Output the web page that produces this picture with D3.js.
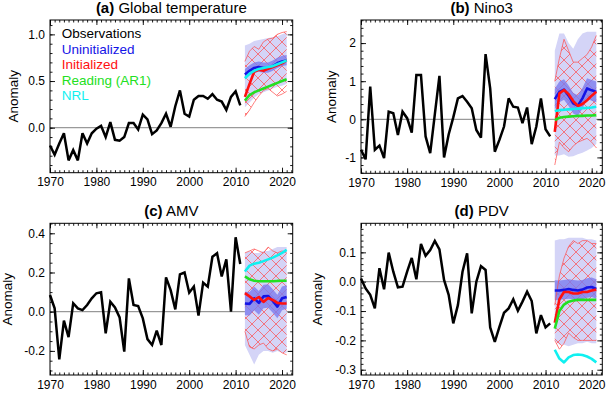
<!DOCTYPE html>
<html>
<head>
<meta charset="utf-8">
<script src="https://cdn.jsdelivr.net/npm/d3@7"></script>
<style>
  body { margin: 0; background: #fff; }
  svg { display: block; font-family: "Liberation Sans", Arial, Helvetica, sans-serif; }
  .tick text { font-size: 12px; fill: #000; }
</style>
</head>
<body>
<svg id="chart" width="609" height="393"></svg>
<script>
// years
const obsYears = d3.range(1970, 2012);
const fcYears = d3.range(2012, 2022);

// (a) global temperature
const globalObs = [-0.19,-0.29,-0.17,-0.06,-0.35,-0.24,-0.35,-0.06,-0.17,-0.06,
  -0.01,0.02,-0.10,0.06,-0.13,-0.14,-0.10,0.05,0.05,-0.02,
  0.14,0.09,-0.07,-0.03,0.05,0.15,0.01,0.23,0.40,0.15,
  0.12,0.30,0.34,0.34,0.31,0.36,0.30,0.28,0.19,0.33,
  0.39,0.24];
const globalInit = [0.33,0.47,0.60,0.62,0.61,0.63,0.65,0.67,0.69,0.72];
const globalUninit = [0.57,0.61,0.64,0.65,0.64,0.64,0.66,0.69,0.71,0.72];
const globalAR1 = [0.29,0.35,0.38,0.40,0.42,0.44,0.46,0.48,0.50,0.52];
const globalNRL = [0.53,0.58,0.61,0.63,0.64,0.65,0.66,0.68,0.70,0.72];
const globalInnerLo = [0.52,0.56,0.59,0.60,0.59,0.59,0.61,0.64,0.66,0.67];
const globalInnerHi = [0.63,0.67,0.70,0.71,0.70,0.70,0.72,0.75,0.77,0.78];
const globalOuterLo = [0.22,0.27,0.32,0.36,0.38,0.40,0.42,0.44,0.45,0.47];
const globalOuterHi = [0.88,0.90,0.93,0.94,0.95,0.96,0.97,0.98,1.00,1.02];
const globalInitLo = [0.12,0.19,0.27,0.34,0.40,0.42,0.38,0.34,0.36,0.39];
const globalInitHi = [0.71,0.82,0.87,0.84,0.92,0.95,0.96,1.00,1.02,1.03];

// (b) Nino3
const ninoObs = [-0.80,-1.05,0.86,-0.80,-0.69,-1.02,0.20,0.16,-0.41,0.20,
  0.03,-0.35,1.16,1.16,-0.45,-0.89,0.13,1.14,-1.00,-0.40,
  0.05,0.55,0.61,0.46,0.29,-0.28,-0.48,1.71,0.81,-0.85,
  -0.54,-0.19,0.55,0.33,0.31,-0.10,0.31,-0.65,-0.19,0.55,
  -0.26,-0.45];
const ninoInit = [-0.33,0.68,0.77,0.66,0.48,0.35,0.40,0.50,0.62,0.72];
const ninoUninit = [0.53,0.72,0.78,0.62,0.42,0.36,0.55,0.81,0.76,0.72];
const ninoAR1 = [-0.02,0.04,0.06,0.07,0.08,0.09,0.09,0.10,0.10,0.11];
const ninoNRL = [0.22,0.24,0.25,0.26,0.27,0.28,0.29,0.30,0.31,0.33];
const ninoInnerLo = [0.26,0.45,0.51,0.35,0.15,0.09,0.28,0.54,0.49,0.45];
const ninoInnerHi = [0.80,0.99,1.05,0.89,0.69,0.63,0.82,1.08,1.03,0.99];
const ninoOuterLo = [-0.95,-0.95,-0.92,-0.98,-0.97,-0.92,-0.88,-0.82,-0.75,-0.65];
const ninoOuterHi = [1.80,2.25,2.25,2.00,1.85,2.10,2.25,2.30,2.30,2.30];
const ninoInitLo = [-1.20,-0.60,-0.75,-0.85,-0.70,-0.60,-0.55,-0.50,-0.60,-0.75];
const ninoInitHi = [1.00,1.60,2.10,1.80,1.50,1.50,1.60,1.70,1.90,2.20];

// (c) AMV
const amvObs = [0.085,0.017,-0.243,-0.046,-0.13,0.043,0.017,0.008,0.034,0.068,
  0.094,0.099,-0.11,0.051,0.022,-0.029,-0.204,0.17,0.034,0.029,
  -0.034,-0.14,-0.17,-0.097,-0.17,0.175,0.11,0.012,0.19,0.20,
  0.097,0.128,-0.02,0.148,0.128,0.28,0.298,0.18,0.267,0.0,
  0.38,0.243];
const amvInit = [0.095,0.078,0.06,0.075,0.05,0.07,0.06,0.045,0.042,0.042];
const amvUninit = [0.042,0.04,0.068,0.045,0.078,0.08,0.055,0.026,0.068,0.075];
const amvAR1 = [0.18,0.165,0.158,0.155,0.155,0.155,0.155,0.157,0.158,0.158];
const amvNRL = [0.205,0.235,0.245,0.25,0.258,0.267,0.276,0.287,0.30,0.315];
const amvInnerLo = [-0.018,-0.02,0.008,-0.015,0.018,0.02,-0.005,-0.034,0.008,0.015];
const amvInnerHi = [0.102,0.10,0.128,0.105,0.138,0.14,0.115,0.086,0.128,0.135];
const amvOuterLo = [-0.17,-0.22,-0.27,-0.22,-0.20,-0.20,-0.21,-0.20,-0.21,-0.21];
const amvOuterHi = [0.30,0.31,0.30,0.30,0.31,0.31,0.32,0.33,0.33,0.33];
const amvInitLo = [-0.10,-0.18,-0.19,-0.17,-0.16,-0.19,-0.20,-0.19,-0.21,-0.22];
const amvInitHi = [0.30,0.31,0.32,0.31,0.30,0.33,0.31,0.30,0.31,0.30];

// (d) PDV
const pdvObs = [0.011,-0.023,-0.045,-0.091,0.046,-0.026,0.099,0.034,-0.019,-0.017,
  0.034,0.081,0.008,0.129,0.088,0.108,0.139,0.11,0.006,-0.045,
  -0.142,-0.08,0.034,0.097,-0.108,0.0,0.053,0.04,-0.156,-0.205,
  -0.154,-0.106,-0.091,-0.06,-0.099,-0.068,-0.034,-0.066,-0.176,-0.114,
  -0.156,-0.142];
const pdvInit = [-0.14,-0.06,-0.035,-0.035,-0.04,-0.04,-0.035,-0.035,-0.03,-0.027];
const pdvUninit = [-0.03,-0.03,-0.028,-0.025,-0.028,-0.03,-0.027,-0.02,-0.018,-0.025];
const pdvAR1 = [-0.16,-0.10,-0.078,-0.068,-0.064,-0.062,-0.062,-0.062,-0.062,-0.062];
const pdvNRL = [-0.232,-0.262,-0.275,-0.258,-0.25,-0.248,-0.25,-0.255,-0.263,-0.275];
const pdvInnerLo = [-0.063,-0.062,-0.060,-0.058,-0.060,-0.062,-0.060,-0.055,-0.052,-0.058];
const pdvInnerHi = [0.005,0.004,0.006,0.008,0.006,0.004,0.006,0.012,0.014,0.008];
const pdvOuterLo = [-0.20,-0.215,-0.215,-0.22,-0.215,-0.21,-0.21,-0.205,-0.21,-0.21];
const pdvOuterHi = [0.14,0.145,0.145,0.15,0.15,0.15,0.15,0.145,0.145,0.14];
const pdvInitLo = [-0.20,-0.23,-0.21,-0.175,-0.19,-0.20,-0.20,-0.20,-0.20,-0.20];
const pdvInitHi = [-0.08,0.02,0.08,0.12,0.14,0.13,0.14,0.14,0.13,0.13];

const legendLabels = ["Observations", "Uninitialized", "Initialized", "Reading (AR1)", "NRL"];
const colors = {obs: "#000", uninit: "#1414e6", init: "#ff1010", ar1: "#22e022", nrl: "#10f0f0"};
const legendColors = [colors.obs, colors.uninit, colors.init, colors.ar1, colors.nrl];

const panels = [
  {letter: "(a)", title: "Global temperature", box: [50, 292.7, 20, 172.7], yDomain: [-0.482, 1.154],
   major: [0, 0.5, 1.0], minorStep: 0.1, fmt: d => d.toFixed(1), ylabX: 13.5,
   obs: globalObs, init: globalInit, uninit: globalUninit, ar1: globalAR1, nrl: globalNRL,
   innerLo: globalInnerLo, innerHi: globalInnerHi, outerLo: globalOuterLo, outerHi: globalOuterHi,
   initLo: globalInitLo, initHi: globalInitHi, legend: true},
  {letter: "(b)", title: "Nino3", box: [361, 602.3, 20, 173.3], yDomain: [-1.417, 2.606],
   major: [-1, 0, 1, 2], minorStep: 0.2, fmt: d => String(d), ylabX: 331.5,
   obs: ninoObs, init: ninoInit, uninit: ninoUninit, ar1: ninoAR1, nrl: ninoNRL,
   innerLo: ninoInnerLo, innerHi: ninoInnerHi, outerLo: ninoOuterLo, outerHi: ninoOuterHi,
   initLo: ninoInitLo, initHi: ninoInitHi},
  {letter: "(c)", title: "AMV", box: [50, 292.7, 223.3, 375], yDomain: [-0.323, 0.451],
   major: [-0.2, 0, 0.2, 0.4], minorStep: 0.05, fmt: d => d.toFixed(1), ylabX: 7.5,
   obs: amvObs, init: amvInit, uninit: amvUninit, ar1: amvAR1, nrl: amvNRL,
   innerLo: amvInnerLo, innerHi: amvInnerHi, outerLo: amvOuterLo, outerHi: amvOuterHi,
   initLo: amvInitLo, initHi: amvInitHi},
  {letter: "(d)", title: "PDV", box: [361, 602.3, 223.3, 375], yDomain: [-0.318, 0.199],
   major: [-0.3, -0.2, -0.1, 0, 0.1], minorStep: 0.02, fmt: d => d.toFixed(1), ylabX: 317.5,
   obs: pdvObs, init: pdvInit, uninit: pdvUninit, ar1: pdvAR1, nrl: pdvNRL,
   innerLo: pdvInnerLo, innerHi: pdvInnerHi, outerLo: pdvOuterLo, outerHi: pdvOuterHi,
   initLo: pdvInitLo, initHi: pdvInitHi}
];

const svg = d3.select("#chart");
const defs = svg.append("defs");

// red cross-hatch for the initialized spread
const pat = defs.append("pattern")
  .attr("id", "hatch")
  .attr("patternUnits", "userSpaceOnUse")
  .attr("width", 12).attr("height", 12);
pat.append("path")
  .attr("d", "M-1,-1L13,13M13,-1L-1,13")
  .attr("stroke", "#ff4a4a")
  .attr("stroke-width", 0.7)
  .attr("fill", "none");

const majorYears = d3.range(1970, 2021, 10);
const minorYears = d3.range(1970, 2023);

panels.forEach((p, i) => {
  const [x0, x1, y0, y1] = p.box;
  const x = d3.scaleLinear().domain([1970, 2022.3]).range([x0, x1]);
  const y = d3.scaleLinear().domain(p.yDomain).range([y1, y0]);
  const g = svg.append("g");

  defs.append("clipPath").attr("id", "clip" + i)
    .append("rect").attr("x", x0).attr("y", y0).attr("width", x1 - x0).attr("height", y1 - y0);

  // zero line
  g.append("line")
    .attr("x1", x0).attr("x2", x1)
    .attr("y1", y(0)).attr("y2", y(0))
    .attr("stroke", "#808080").attr("stroke-width", 1);

  const fc = g.append("g").attr("clip-path", `url(#clip${i})`);
  const band = (lo, hi) => d3.area()
    .x((d, k) => x(fcYears[k]))
    .y0((d, k) => y(lo[k]))
    .y1((d, k) => y(hi[k]))(fcYears);

  fc.append("path").attr("d", band(p.outerLo, p.outerHi)).attr("fill", "#d4d4f7");
  fc.append("path").attr("d", band(p.initLo, p.initHi)).attr("fill", "url(#hatch)");
  fc.append("path").attr("d", band(p.innerLo, p.innerHi)).attr("fill", "#7c7cee").attr("fill-opacity", 0.8);

  const line = d3.line().x((d, k) => x(fcYears[k])).y(d => y(d));
  [p.initLo, p.initHi].forEach(arr => {
    fc.append("path").attr("d", line(arr))
      .attr("fill", "none").attr("stroke", "#ff4a4a").attr("stroke-width", 0.7);
  });

  [["uninit", p.uninit], ["init", p.init], ["ar1", p.ar1], ["nrl", p.nrl]].forEach(([k, arr]) => {
    fc.append("path").attr("d", line(arr))
      .attr("fill", "none").attr("stroke", colors[k])
      .attr("stroke-width", 2.6).attr("stroke-linejoin", "round");
  });

  // observations
  g.append("path")
    .attr("d", d3.line().x((d, k) => x(obsYears[k])).y(d => y(d))(p.obs))
    .attr("fill", "none").attr("stroke", colors.obs)
    .attr("stroke-width", 2.5).attr("stroke-linejoin", "miter").attr("stroke-miterlimit", 3);

  // axes with inward ticks on all sides
  const minorY = d3.range(Math.ceil(p.yDomain[0] / p.minorStep) * p.minorStep, p.yDomain[1], p.minorStep);

  const addAxis = (axis, tx, ty) => {
    const a = g.append("g").attr("transform", `translate(${tx},${ty})`).call(axis);
    a.select(".domain").remove();
    a.selectAll("line").attr("stroke", "#000").attr("stroke-width", 0.9);
    return a;
  };

  addAxis(d3.axisBottom(x).tickValues(minorYears).tickSizeInner(-2.5).tickSizeOuter(0).tickFormat(""), 0, y1);
  addAxis(d3.axisTop(x).tickValues(minorYears).tickSizeInner(-2.5).tickSizeOuter(0).tickFormat(""), 0, y0);
  addAxis(d3.axisBottom(x).tickValues(majorYears).tickSizeInner(-5).tickSizeOuter(0)
    .tickPadding(5).tickFormat(d3.format("d")), 0, y1);
  addAxis(d3.axisTop(x).tickValues(majorYears).tickSizeInner(-5).tickSizeOuter(0).tickFormat(""), 0, y0);

  addAxis(d3.axisLeft(y).tickValues(minorY).tickSizeInner(-2.5).tickSizeOuter(0).tickFormat(""), x0, 0);
  addAxis(d3.axisRight(y).tickValues(minorY).tickSizeInner(-2.5).tickSizeOuter(0).tickFormat(""), x1, 0);
  addAxis(d3.axisLeft(y).tickValues(p.major).tickSizeInner(-5).tickSizeOuter(0)
    .tickPadding(5).tickFormat(p.fmt), x0, 0);
  addAxis(d3.axisRight(y).tickValues(p.major).tickSizeInner(-5).tickSizeOuter(0).tickFormat(""), x1, 0);

  g.selectAll(".tick text").style("font-size", "12px").style("font-family", "'Liberation Sans', Arial, sans-serif");

  g.append("rect")
    .attr("x", x0).attr("y", y0).attr("width", x1 - x0).attr("height", y1 - y0)
    .attr("fill", "none").attr("stroke", "#000").attr("stroke-width", 1);

  // title
  const t = g.append("text")
    .attr("x", (x0 + x1) / 2).attr("y", y0 - 7)
    .attr("text-anchor", "middle")
    .style("font-size", "15px");
  t.append("tspan").attr("font-weight", "bold").text(p.letter);
  t.append("tspan").text(" " + p.title);

  // y label
  g.append("text")
    .attr("transform", `translate(${p.ylabX},${(y0 + y1) / 2}) rotate(-90)`)
    .attr("text-anchor", "middle")
    .attr("dy", "0.35em")
    .style("font-size", "13.5px")
    .text("Anomaly");

  if (p.legend) {
    g.append("g").selectAll("text")
      .data(legendLabels)
      .join("text")
      .attr("x", x0 + 11.7)
      .attr("y", (d, k) => 38.3 + k * 15.5)
      .attr("fill", (d, k) => legendColors[k])
      .style("font-size", "13.5px")
      .text(d => d);
  }
});
</script>
</body>
</html>
